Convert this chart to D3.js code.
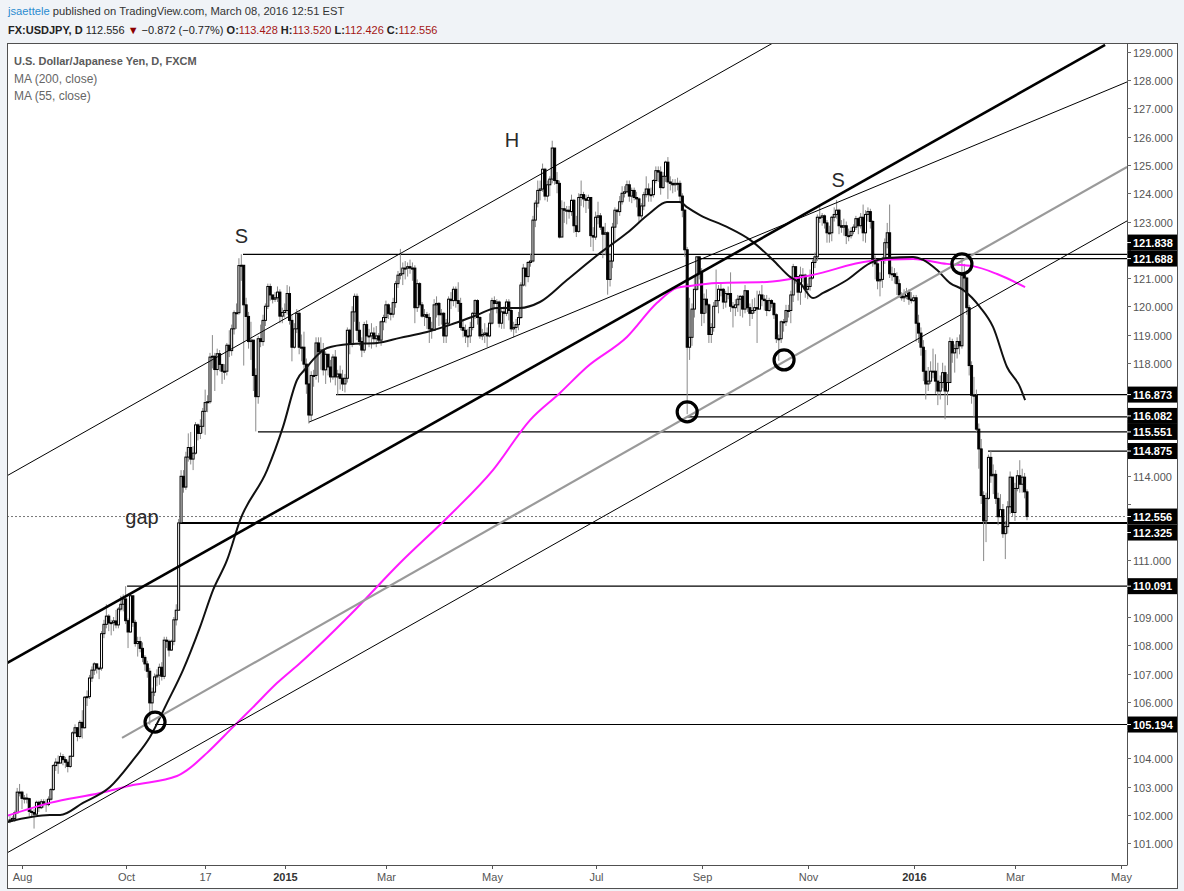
<!DOCTYPE html>
<html><head><meta charset="utf-8">
<script src="https://cdn.jsdelivr.net/npm/d3@7"></script>
<style>body{margin:0;background:#f0f3f7;} svg{display:block;font-family:"Liberation Sans",Arial,sans-serif;}</style>
</head><body><svg id="c" width="1184" height="891"></svg>
<script>
// ---------- DATA (daily bars, weekdays from 2014-07-25) ----------
const startDate = "2014-07-25";
const closes = [
101.82,101.87,102.07,102.80,102.80,
102.58,102.59,102.57,102.12,102.08,102.02,102.44,102.25,102.46,102.40,102.36,102.55,102.89,103.74,103.86,103.83,104.06,103.95,103.86,103.71,104.07,
104.90,105.08,104.77,105.27,105.08,106.16,106.18,106.84,107.12,107.34,107.19,107.19,108.41,108.74,109.03,108.79,108.80,108.86,108.72,109.28,109.45,109.64,
108.87,108.47,109.75,108.81,108.06,108.13,107.89,107.57,107.34,107.08,105.96,106.34,106.88,106.94,107.22,106.90,108.18,108.14,107.83,108.14,108.90,109.24,112.33,
113.98,113.60,114.66,115.00,114.59,114.80,115.80,115.50,115.75,116.28,116.59,116.62,118.20,118.23,117.76,118.32,117.94,117.70,117.70,118.62,
118.43,119.20,119.77,119.77,121.44,121.45,120.05,119.64,118.75,118.80,117.55,116.80,118.85,118.75,119.50,120.00,120.70,120.40,120.25,120.30,120.50,119.65,119.78,
119.85,120.45,119.50,118.55,119.20,119.75,118.55,118.55,117.95,117.25,116.15,117.55,117.55,118.70,118.40,118.45,117.75,118.30,117.85,117.50,118.20,117.50,
117.60,117.45,117.25,117.45,119.15,118.65,119.80,120.35,119.15,118.75,118.45,119.35,118.95,118.95,119.05,118.85,118.95,118.80,119.45,119.60,
120.05,119.75,119.72,120.13,120.80,121.10,121.15,121.35,121.35,121.40,121.35,121.35,119.95,120.80,120.05,119.65,119.70,119.60,119.20,119.15,120.05,120.10,
119.70,119.75,118.95,119.40,120.25,120.20,120.60,120.20,120.10,119.25,119.15,118.95,118.95,119.25,119.75,120.20,119.60,118.95,119.00,119.05,118.95,119.40,
120.20,120.10,120.15,119.40,119.80,119.75,120.15,119.85,119.20,119.25,119.35,119.60,120.75,121.35,121.05,121.55,121.60,123.05,123.65,124.10,124.15,
124.85,123.90,124.30,124.50,125.60,124.45,124.35,122.45,123.45,123.40,123.40,123.35,123.75,122.85,122.65,123.85,123.95,123.80,123.75,123.85,122.50,122.45,
123.15,123.20,122.80,122.55,122.60,120.95,121.60,122.80,123.40,123.35,123.70,124.00,124.05,124.30,123.90,124.10,123.85,123.80,123.20,123.55,123.95,124.15,123.95,
123.95,124.45,124.80,124.75,124.20,124.60,125.10,124.40,124.35,124.30,124.35,124.35,123.90,123.40,122.00,118.55,118.90,119.90,120.60,121.75,121.20,
119.75,120.25,120.05,119.00,119.25,120.00,120.20,120.60,120.60,120.15,120.45,120.45,120.00,119.95,120.05,120.25,120.35,119.90,120.55,119.95,119.75,119.85,
119.95,119.90,120.40,120.25,120.20,119.85,120.20,120.10,119.70,118.85,118.85,119.45,119.45,119.85,119.85,120.40,121.40,121.05,120.50,121.10,121.10,120.60,
120.70,121.00,121.55,121.75,123.15,123.15,123.20,122.95,122.60,122.60,123.15,123.25,123.40,122.85,122.80,122.85,122.50,122.50,122.65,122.80,123.10,
122.85,123.15,122.60,123.25,123.35,123.00,121.60,121.50,120.90,120.95,121.65,122.25,122.60,121.15,121.15,121.05,120.80,120.40,120.30,120.35,120.50,120.25,120.20,
120.30,119.40,119.05,118.55,117.70,117.25,117.35,117.70,117.70,117.35,117.00,117.30,117.65,117.00,117.30,118.75,118.35,118.50,118.75,118.60,121.10,
121.00,119.95,117.90,116.85,116.85,115.65,114.95,113.30,112.40,113.20,114.65,114.00,114.05,113.20,112.55,112.80,111.95,112.20,112.90,113.95,112.70,
113.55,114.00,113.70,113.95,113.43,112.556
];
const highs = [
101.95,101.95,102.15,102.95,103.09,
102.85,102.70,102.75,102.60,102.20,102.20,102.50,102.50,102.55,102.55,102.55,102.65,102.95,103.80,104.00,104.10,104.20,104.15,104.05,103.95,104.10,
104.95,105.20,105.10,105.35,105.70,106.20,106.40,106.95,107.25,107.40,107.35,107.25,108.50,108.90,109.45,109.10,108.90,109.00,109.25,109.35,109.75,109.80,
110.09,108.95,109.85,109.65,108.90,108.30,108.30,108.10,107.65,107.45,107.20,106.50,107.00,107.15,107.35,107.40,108.30,108.30,108.20,108.20,109.00,109.45,112.47,
114.20,114.20,114.85,115.50,115.55,115.05,115.90,115.85,116.00,116.40,117.05,116.85,118.35,118.98,118.35,118.50,118.45,117.95,117.95,118.70,
119.15,119.35,119.85,120.10,121.70,121.84,121.20,120.30,119.80,119.45,118.65,117.80,118.95,119.35,119.70,120.10,120.80,120.80,120.40,120.50,120.70,120.60,119.95,
120.10,120.75,120.70,119.70,119.40,119.90,119.85,119.00,119.10,118.15,117.90,117.70,117.75,118.90,118.90,118.90,118.70,118.40,118.30,118.10,118.30,118.45,
117.75,117.90,117.75,117.60,119.25,119.20,120.00,120.45,120.45,119.45,118.90,119.45,119.50,119.20,119.40,119.25,119.30,119.05,119.50,119.70,
120.20,120.10,119.95,120.30,120.90,121.25,122.03,121.55,121.60,121.55,121.65,121.55,121.45,120.95,120.85,120.15,119.90,119.80,119.75,119.45,120.25,120.35,
120.15,119.90,119.80,119.55,120.35,120.50,120.70,120.70,120.85,120.30,119.55,119.35,119.20,119.45,119.80,120.25,120.25,119.65,119.20,119.40,119.25,119.75,
120.30,120.35,120.25,120.20,119.90,120.00,120.25,120.25,119.90,119.45,119.55,119.80,120.85,121.50,121.35,121.60,121.85,123.20,123.75,124.45,124.45,
125.05,124.90,124.45,124.60,125.86,125.60,124.75,124.45,123.75,123.70,123.55,123.55,123.95,123.80,123.20,124.00,124.45,124.05,123.95,123.95,123.10,122.80,
123.35,123.70,123.30,122.75,122.95,122.65,121.85,122.95,123.50,123.45,123.90,124.25,124.25,124.45,124.45,124.20,124.20,124.05,123.85,123.65,124.05,124.60,124.35,
124.20,124.50,124.95,124.95,124.95,124.75,125.15,125.28,124.60,124.50,124.50,124.55,124.45,124.00,123.45,122.10,120.30,120.10,121.05,121.75,121.70,
121.35,120.45,120.60,120.10,119.40,120.15,121.30,120.75,120.85,120.65,120.55,120.70,121.20,120.15,120.25,120.40,120.40,120.40,120.75,120.55,120.10,120.25,
120.30,120.55,120.55,120.75,120.40,120.40,120.30,120.25,120.15,119.75,119.00,119.50,119.55,120.05,120.05,120.55,121.50,121.40,121.05,121.40,121.35,121.15,
120.80,121.30,121.65,121.90,123.25,123.60,123.30,123.25,123.05,122.85,123.20,123.50,123.76,123.45,123.05,123.10,123.00,122.75,122.80,122.90,123.20,
123.15,123.30,123.60,123.40,123.50,123.45,123.05,121.80,121.60,121.20,121.75,122.40,122.95,123.60,121.40,121.35,121.20,120.95,120.50,120.60,120.65,120.60,120.50,
120.40,120.40,119.70,119.25,118.80,118.45,117.85,118.05,118.50,118.30,118.00,117.55,118.00,117.90,117.60,118.90,118.85,118.65,118.90,119.00,121.69,
121.50,121.05,120.05,118.05,117.50,117.05,115.85,115.30,113.45,113.40,114.75,114.87,114.40,114.20,113.40,113.35,113.00,112.40,113.10,114.15,113.90,
113.75,114.20,114.55,114.25,114.10,113.52
];
const lows = [
101.70,101.75,101.75,102.05,102.65,
102.20,102.40,102.40,101.95,101.95,101.51,102.05,102.10,102.20,102.25,102.10,102.30,102.50,102.85,103.55,103.45,103.85,103.75,103.65,103.50,103.65,
104.05,104.85,104.60,104.70,104.70,105.05,105.85,106.10,106.70,106.95,107.00,106.80,107.10,108.25,108.60,108.50,108.35,108.50,108.60,108.60,109.20,109.20,
108.75,107.90,108.45,108.65,107.95,107.60,107.75,107.40,107.10,106.85,105.19,105.65,106.20,106.55,106.60,106.75,106.80,107.90,107.60,107.80,108.00,108.70,109.25,
112.60,113.40,113.50,114.50,114.40,114.20,114.75,115.25,115.30,115.50,115.45,116.25,116.55,117.80,117.00,117.55,117.70,117.25,117.40,117.55,
118.20,118.25,119.00,119.20,119.70,120.90,117.90,118.80,118.50,118.10,117.00,115.57,116.55,118.55,118.60,119.30,119.90,120.20,120.10,120.15,120.15,119.40,119.40,
119.60,119.70,119.35,118.05,118.50,119.05,118.30,118.05,117.65,116.90,115.85,115.95,117.15,117.40,117.30,117.75,117.55,117.25,117.55,117.30,117.40,117.20,
116.87,117.05,117.00,116.95,117.30,118.30,118.55,119.45,118.80,118.60,118.20,118.35,118.70,118.55,118.50,118.65,118.55,118.70,118.60,119.15,
119.40,119.55,119.50,119.60,119.95,120.65,120.95,120.75,120.95,121.05,121.15,120.90,119.40,119.80,119.95,119.60,119.30,119.20,118.70,118.85,119.20,119.60,
119.30,119.35,118.70,118.70,119.30,119.90,120.00,119.95,119.80,119.15,118.90,118.70,118.55,118.70,119.15,119.55,119.35,118.85,118.80,118.70,118.55,118.90,
119.35,119.90,119.75,119.25,119.20,119.20,119.65,119.50,119.10,118.90,119.05,119.15,119.55,120.70,120.70,120.85,121.40,121.55,122.80,123.50,123.75,
124.05,123.75,123.70,123.90,124.35,124.30,124.00,122.40,122.45,122.95,122.90,123.10,123.20,122.60,122.45,122.60,123.55,123.50,123.30,123.45,122.10,121.95,
122.35,122.90,122.70,121.70,121.80,120.41,120.70,121.35,122.30,122.90,123.20,123.60,123.85,124.00,123.70,123.65,123.75,123.50,122.95,123.10,123.40,123.85,123.70,
123.70,123.85,124.35,124.40,123.95,124.15,124.40,123.80,124.10,124.00,124.05,124.10,123.65,123.15,121.75,116.18,118.10,118.60,119.60,120.55,120.95,
119.30,119.40,119.75,118.70,118.70,119.10,120.00,119.75,120.35,119.90,119.95,120.25,119.80,119.25,119.65,119.80,119.65,119.60,119.75,119.80,119.30,119.55,
119.75,118.70,119.95,120.00,119.85,119.65,119.80,119.95,119.55,118.70,118.07,118.70,119.10,119.30,119.60,119.40,120.15,120.80,120.20,120.05,120.85,120.30,
120.25,120.55,120.95,121.35,121.60,122.95,122.85,122.75,122.25,122.25,122.30,123.00,123.10,122.55,122.60,122.50,122.20,122.30,122.40,122.55,122.70,
122.55,122.75,122.30,122.25,123.00,122.75,121.40,120.95,120.60,120.35,120.65,121.50,122.05,121.00,120.90,120.80,120.40,120.30,120.20,120.15,120.25,120.05,120.10,
120.15,118.75,118.70,118.25,117.35,116.70,117.00,117.25,117.45,116.90,116.50,116.70,117.10,116.00,116.50,117.30,118.00,117.65,118.15,118.30,118.50,
120.60,119.70,117.55,116.55,116.05,115.55,114.25,113.00,110.98,111.65,113.15,113.75,113.35,113.00,112.25,112.55,111.80,111.05,111.95,112.65,112.55,
112.40,113.45,113.40,113.40,113.20,112.426
];
// moving averages: [bar index, value]
const ma200 = [[-1.2,101.96],[16.6,102.42],[37.4,102.77],[51,103.05],[69.3,103.37],[73.5,103.58],[81.8,104.19],[92.6,105.11],[100.9,105.81],[110.8,106.66],[120.4,107.37],[141.1,109.07],[161.8,110.91],[182.6,112.61],[200.4,114.2],[215.8,115.97],[228.2,116.93],[239.4,117.85],[256,118.91],[268.5,120.12],[276.8,120.65],[282.2,120.72],[293.4,120.82],[314.1,120.86],[326.6,121.0],[333.2,121.11],[356.9,121.6],[374.7,121.67],[388.8,121.5],[399.6,121.42],[409.6,121.14],[421.2,120.68]];
const ma55 = [[-1.2,101.74],[16.6,101.99],[20.8,101.99],[30.3,102.42],[41.5,102.98],[51.1,103.94],[58.1,104.75],[65.2,105.96],[71.8,107.12],[78.9,108.65],[84.3,109.96],[90.1,111.02],[95.5,112.43],[106.7,114.2],[113.3,115.73],[119.1,117.39],[123.3,117.85],[125.7,118.1],[131.6,118.52],[141.1,118.66],[152.3,118.7],[161.8,118.88],[173,119.09],[182.6,119.34],[193.8,119.69],[202.1,119.94],[211.6,119.94],[219.9,120.15],[231.1,120.93],[244.8,121.88],[256,122.59],[265.6,123.3],[272.6,123.69],[278,123.69],[280.9,123.51],[286.3,123.23],[297.5,122.81],[307.1,122.35],[316.6,121.64],[323.7,121.04],[327.8,120.82],[333.2,120.29],[337.4,120.47],[347.3,120.93],[356.9,121.53],[363.9,121.71],[374.7,121.74],[378.9,121.64],[384.7,121.28],[390.1,120.82],[395.5,120.58],[402.5,119.97],[407.9,119.27],[413.7,117.85],[419.1,117.14],[421.2,116.68]];
const timeTicks = ["2014-08-01","2014-10-01","2014-11-17","2015-01-01","2015-03-02","2015-05-01","2015-07-01","2015-09-01","2015-11-02","2016-01-01","2016-03-01","2016-05-02"];
const timeLabels = ["Aug","Oct","17","2015","Mar","May","Jul","Sep","Nov","2016","Mar","May"];
const priceTicks = [101,102,103,104,105,106,107,108,109,110,111,112,113,114,115,116,117,118,119,120,121,122,123,124,125,126,127,128,129];
const levelPrices = [121.838,121.688,116.873,116.082,115.551,114.875,112.325,110.091,105.194];
const levelStarts = [96.7,286.3,135.3,281,102.9,405.8,70.6,48.6,60.2];
const lastPrice = 112.556;
// drawn trend lines: [[bar, price],[bar, price]]
const trendLines = [
  {pts:[[-1.2,107.37],[454.4,129.25]], kind:"thick"},
  {pts:[[-1.2,114.0],[316.6,129.32]], kind:"thin"},
  {pts:[[124.1,115.9],[463.5,127.94]], kind:"thin"},
  {pts:[[46.5,104.72],[463.5,124.93]], kind:"gray"},
  {pts:[[-1.2,100.65],[463.5,123.02]], kind:"thin"}
];
const circleBars = [60.2,281,321.2,395];
const circlePrices = [105.28,116.26,118.10,121.50];
const noteText = ["S","H","S","gap"];
const noteBars = [96,208.3,343.6,54.8];
const notePrices = [122.49,125.88,124.47,112.54];

// ---------- CALENDAR ----------
const cal = [];
{ let t = Date.UTC(2014,6,25); const end = Date.UTC(2016,4,10);
  while (t <= end) { const d = new Date(t); const w = d.getUTCDay(); if (w!==0 && w!==6) cal.push(d.toISOString().slice(0,10)); t += 86400000; } }
const idx = s => cal.indexOf(s);

// ---------- LAYOUT ----------
const W=1184, H=891;
const P = {l:7, r:1127, t:43, b:865};
const svg = d3.select("#c");
const x = d3.scaleLinear().domain([idx("2014-08-01"), idx("2016-05-02")]).range([22,1121]);
const y = d3.scaleLinear().domain([101,129]).range([843,52]);

svg.append("rect").attr("width",W).attr("height",H).attr("fill","#f0f3f7");
svg.append("rect").attr("x",7.5).attr("y",43.5).attr("width",1170).attr("height",845).attr("fill","#fff").attr("stroke","#505050");

svg.append("clipPath").attr("id","pc").append("rect").attr("x",P.l+1).attr("y",P.t+1).attr("width",P.r-P.l-1).attr("height",P.b-P.t-1);
const g = svg.append("g").attr("clip-path","url(#pc)");

// header
const h1 = svg.append("text").attr("x",8).attr("y",15).attr("font-size",11.2).attr("fill","#333");
h1.append("tspan").attr("fill","#2a8bd0").text("jsaettele");
h1.append("tspan").text(" published on TradingView.com, March 08, 2016 12:51 EST");
const h2 = svg.append("text").attr("x",8).attr("y",34).attr("font-size",11).attr("fill","#222");
const red = "#a31515";
[["FX:USDJPY, D",true,"#222"],[" 112.556 ",false,"#222"],["▼",false,"#8b0000"],[" \u22120.872 (\u22120.77%) ",false,"#222"],
 ["O:",true,"#222"],["113.428",false,red],[" H:",true,"#222"],["113.520",false,red],[" L:",true,"#222"],["112.426",false,red],[" C:",true,"#222"],["112.556",false,red]]
 .forEach(([t,b,c])=>h2.append("tspan").attr("font-weight",b?"bold":"normal").attr("fill",c).text(t));

// legend
svg.append("text").attr("x",14).attr("y",65).attr("font-size",11).attr("font-weight","bold").attr("fill","#5a5a5a").text("U.S. Dollar/Japanese Yen, D, FXCM");
svg.append("text").attr("x",14).attr("y",83).attr("font-size",12).attr("fill","#666").text("MA (200, close)");
svg.append("text").attr("x",14).attr("y",100).attr("font-size",12).attr("fill","#666").text("MA (55, close)");

// last price dotted line
g.append("line").attr("x1",P.l).attr("x2",P.r).attr("y1",y(lastPrice)).attr("y2",y(lastPrice)).attr("stroke","#777").attr("stroke-dasharray","2,2").attr("stroke-width",1);

// horizontal levels
levelPrices.forEach((p,i)=>{
  g.append("line").attr("x1",x(levelStarts[i])).attr("x2",P.r).attr("y1",y(p)).attr("y2",y(p))
   .attr("stroke","#000").attr("stroke-width", p===112.325?2:1.2);
});

// candles
const cg = g.append("g");
closes.forEach((c,k)=>{
  const o = k>0 ? closes[k-1] : c;
  const hi = Math.max(highs[k],o,c), lo = Math.min(lows[k],o,c);
  const cx = x(k);
  cg.append("line").attr("x1",cx).attr("x2",cx).attr("y1",y(hi)).attr("y2",y(lo)).attr("stroke","#8a8a8a").attr("stroke-width",1);
});
closes.forEach((c,k)=>{
  const o = k>0 ? closes[k-1] : c;
  const up = c>=o;
  const cx = x(k);
  const top = y(Math.max(o,c)), bot = y(Math.min(o,c));
  cg.append("rect").attr("x",cx-1).attr("width",2).attr("y",top).attr("height",Math.max(1,bot-top))
    .attr("fill",up?"#fff":"#000").attr("stroke","#000").attr("stroke-width",1);
});

// moving averages
const ln = d3.line().x(d=>x(d[0])).y(d=>y(d[1])).curve(d3.curveMonotoneX);
g.append("path").attr("d",ln(ma200)).attr("fill","none").attr("stroke","#ff1aff").attr("stroke-width",2);
g.append("path").attr("d",ln(ma55)).attr("fill","none").attr("stroke","#111").attr("stroke-width",2);

// trend lines
const styles = {thick:["#000",2.6],thin:["#000",1],gray:["#9a9a9a",2.2]};
trendLines.forEach(t=>{
  g.append("line").attr("x1",x(t.pts[0][0])).attr("y1",y(t.pts[0][1])).attr("x2",x(t.pts[1][0])).attr("y2",y(t.pts[1][1]))
   .attr("stroke",styles[t.kind][0]).attr("stroke-width",styles[t.kind][1]);
});

// circles
circleBars.forEach((b,i)=>{
  g.append("circle").attr("cx",x(b)).attr("cy",y(circlePrices[i])).attr("r",10).attr("fill","none").attr("stroke","#000").attr("stroke-width",3.2);
});

// notes
noteText.forEach((t,i)=>{
  g.append("text").attr("x",x(noteBars[i])).attr("y",y(notePrices[i])).attr("text-anchor","middle").attr("dominant-baseline","central")
   .attr("font-size",20).attr("fill","#2a2a2a").text(t);
});

// pane borders
svg.append("line").attr("x1",P.r+0.5).attr("x2",P.r+0.5).attr("y1",P.t).attr("y2",P.b).attr("stroke","#505050");
svg.append("line").attr("x1",P.l).attr("x2",P.r+0.5).attr("y1",P.b+0.5).attr("y2",P.b+0.5).attr("stroke","#505050");

// level labels positions with overlap resolution
const fmt = d3.format(".3f");
const labs = levelPrices.map(p=>({p, yy:y(p), last:false})).concat([{p:lastPrice, yy:y(lastPrice), last:true}]).sort((a,b)=>a.yy-b.yy);
const BH = 16;
for (let i=labs.length-2;i>=0;i--){
  const a=labs[i], b=labs[i+1];
  if (b.yy - a.yy < BH){ if (a.last) b.yy = a.yy + BH; else a.yy = b.yy - BH; }
}
// price axis ticks (labels hidden where a level box covers them)
priceTicks.forEach(p=>{
  const yy = Math.round(y(p))+0.5;
  svg.append("line").attr("x1",P.r).attr("x2",P.r+4).attr("y1",yy).attr("y2",yy).attr("stroke","#666");
  const covered = labs.some(l=>Math.abs(l.yy-yy) < 13.5);
  if (!covered) svg.append("text").attr("x",P.r+6).attr("y",yy).attr("dominant-baseline","central").attr("font-size",11).attr("fill","#555").text(fmt(p));
});
labs.forEach(l=>{
  svg.append("rect").attr("x",P.r+1).attr("y",l.yy-BH/2).attr("width",49).attr("height",BH).attr("fill","#000");
  svg.append("line").attr("x1",P.r).attr("x2",P.r+4).attr("y1",l.yy).attr("y2",l.yy).attr("stroke","#fff");
  svg.append("text").attr("x",P.r+6).attr("y",l.yy).attr("dominant-baseline","central").attr("font-size",11).attr("font-weight","bold").attr("fill","#fff").text(fmt(l.p));
});

// time axis
timeTicks.forEach((d,i)=>{
  const xx = Math.round(x(idx(d)))+0.5;
  svg.append("line").attr("x1",xx).attr("x2",xx).attr("y1",P.b).attr("y2",P.b+4).attr("stroke","#555");
  const yr = /^\d{4}$/.test(timeLabels[i]);
  svg.append("text").attr("x",xx).attr("y",881).attr("text-anchor","middle").attr("font-size",11)
    .attr("font-weight",yr?"bold":"normal").attr("fill",yr?"#333":"#555").text(timeLabels[i]);
});
</script></body></html>
